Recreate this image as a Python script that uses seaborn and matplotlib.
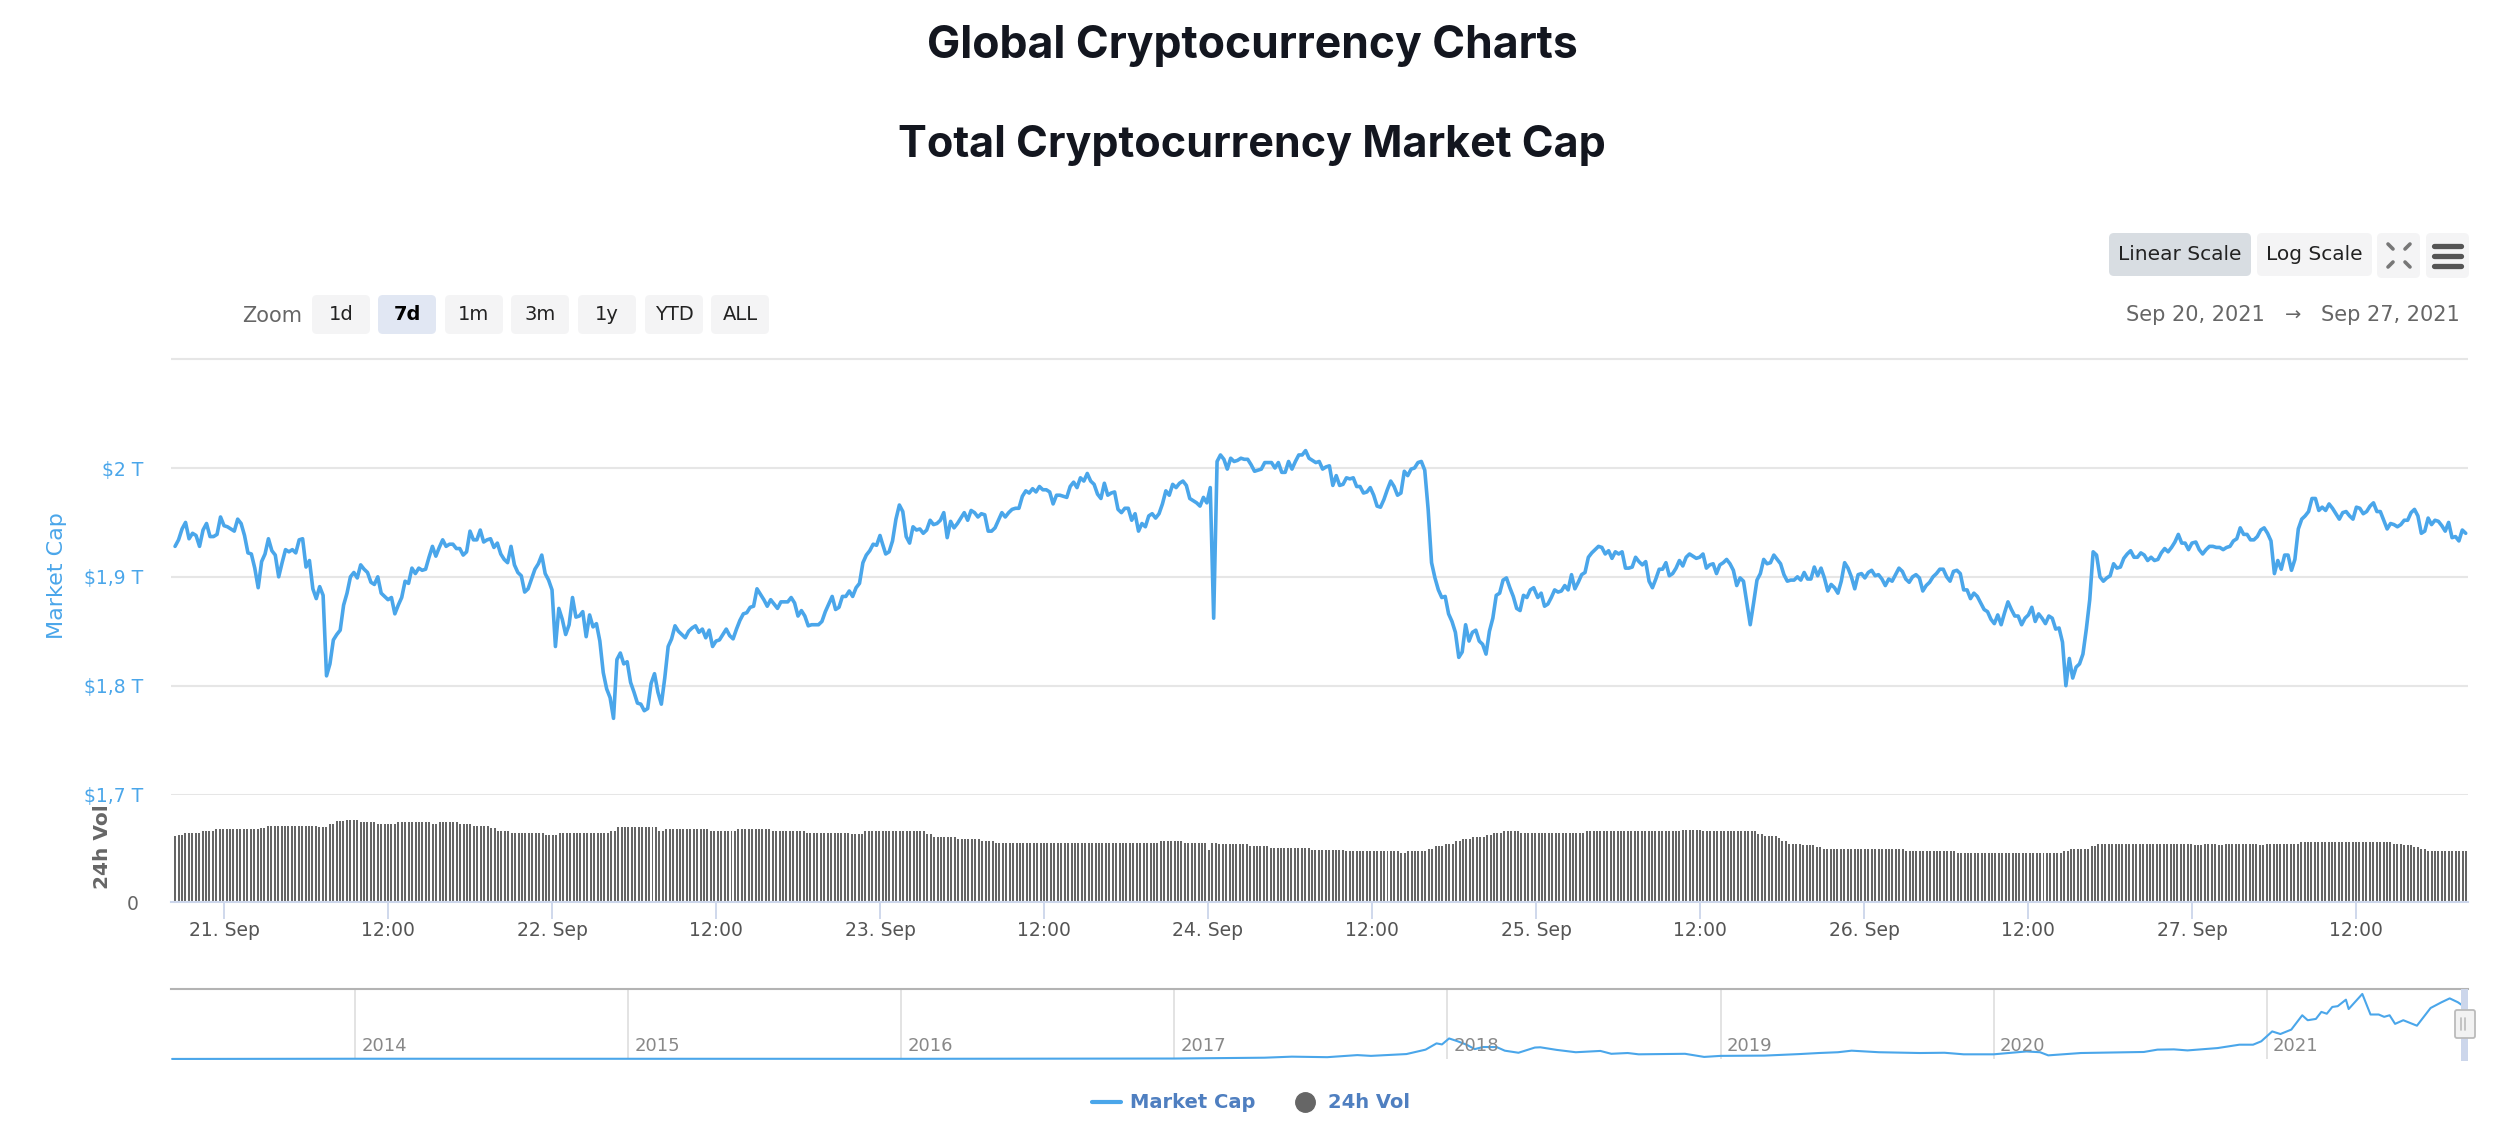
import numpy as np
import pandas as pd
import matplotlib
matplotlib.use('Agg')
import matplotlib.pyplot as plt
from matplotlib.lines import Line2D
from matplotlib.patches import FancyBboxPatch, Rectangle
import seaborn as sns

# market cap in $B, one list per calendar day
cap_sep20 = [1928,1934,1944,1950,1935,1940,1938,1928,1943,1949,1937,1937,1939,1955,1947]
cap_sep21 = [1946,1944,1942,1953,1949,1938,1922,1921,1908,1890,1914,1921,1935,1924,1920,1900,1913,1925,1923,1925,
             1922,1934,1935,1909,1915,1889,1880,1891,1883,1809,1820,1842,1847,1851,1874,1885,1900,1904,1899,1911,
             1907,1904,1895,1893,1900,1885,1882,1879,1881,1866,1874,1881,1896,1894,1908,1903,1908,1906,1907,1918,
             1928,1919,1927,1934,1928,1930,1930,1926,1926,1920,1923,1942,1934,1934,1943,1932,1934,1935,1927,1931,
             1921,1916,1913,1928,1911,1904,1901,1886,1889,1898,1907,1912,1920,1903,1897,1888]
cap_sep22 = [1836,1871,1861,1847,1856,1881,1863,1864,1868,1845,1865,1854,1857,1841,1812,1797,1789,1770,1824,1830,
             1820,1822,1803,1794,1784,1783,1777,1779,1802,1811,1794,1783,1807,1836,1843,1855,1850,1847,1844,1850,
             1853,1855,1849,1852,1844,1851,1836,1841,1842,1847,1852,1846,1843,1852,1860,1866,1867,1872,1873,1889,
             1884,1879,1873,1879,1875,1871,1877,1877,1877,1881,1876,1864,1869,1864,1855,1856,1856,1856,1859,1868,
             1875,1882,1870,1872,1882,1882,1887,1882,1890,1894,1913,1920,1924,1930,1929,1938]
cap_sep23 = [1931,1921,1923,1933,1953,1966,1960,1937,1931,1946,1943,1944,1940,1943,1952,1948,1949,1952,1959,1936,
             1951,1945,1949,1954,1959,1952,1961,1959,1955,1958,1957,1942,1942,1945,1952,1959,1955,1959,1962,1963,
             1963,1974,1979,1977,1981,1978,1983,1980,1980,1978,1967,1975,1975,1974,1973,1983,1987,1982,1991,1988,
             1995,1988,1985,1976,1972,1986,1975,1977,1978,1962,1959,1963,1963,1952,1958,1942,1949,1946,1956,1958,
             1954,1958,1967,1979,1975,1985,1982,1986,1988,1984,1972,1970,1968,1965,1973,1968]
cap_sep24 = [1982,1862,2006,2012,2008,1999,2009,2006,2007,2009,2008,2008,2003,1997,1998,1999,2005,2005,2005,2000,
             2005,1996,1996,2006,1999,2006,2012,2012,2016,2009,2007,2005,2006,1999,2001,2002,1984,1993,1984,1985,
             1991,1990,1991,1983,1983,1977,1978,1982,1975,1965,1964,1971,1980,1988,1983,1975,1977,1997,1993,1999,
             2000,2005,2006,1998,1962,1913,1899,1888,1881,1882,1866,1859,1849,1826,1831,1856,1841,1849,1851,1841,
             1838,1829,1850,1862,1883,1885,1897,1899,1890,1882,1871,1869,1883,1881,1888,1890]
cap_sep25 = [1881,1885,1873,1875,1881,1888,1886,1887,1892,1888,1902,1889,1895,1902,1904,1918,1922,1925,1928,1927,
             1921,1924,1917,1923,1921,1923,1908,1908,1909,1918,1914,1911,1914,1896,1890,1898,1907,1907,1913,1901,
             1903,1908,1915,1910,1918,1921,1919,1917,1918,1921,1908,1911,1912,1903,1911,1913,1916,1912,1906,1892,
             1899,1896,1876,1856,1876,1897,1903,1916,1912,1913,1920,1916,1912,1902,1896,1897,1897,1900,1897,1904,
             1898,1898,1909,1901,1908,1899,1887,1893,1890,1885,1896,1913,1908,1900,1889,1902,1903,1899]
cap_sep26 = [1904,1906,1901,1902,1898,1892,1898,1896,1902,1908,1905,1898,1895,1900,1902,1899,1887,1892,1895,1900,
             1903,1907,1907,1900,1896,1905,1906,1903,1888,1888,1880,1885,1882,1876,1870,1868,1861,1857,1865,1856,
             1867,1877,1870,1864,1864,1856,1862,1865,1872,1859,1866,1862,1857,1864,1862,1852,1853,1840,1800,1825,
             1807,1817,1820,1829,1852,1879,1923,1920,1900,1896,1899,1901,1912,1908,1909,1917,1921,1924,1918,1918,
             1922,1920,1915,1918,1915,1916,1922,1926,1923,1927,1932,1939,1931,1931,1925,1931]
cap_sep27 = [1932,1925,1921,1925,1928,1928,1927,1927,1925,1927,1928,1933,1935,1945,1939,1939,1934,1934,1937,1943,
             1945,1940,1933,1903,1915,1907,1920,1920,1906,1916,1944,1953,1956,1960,1972,1972,1961,1964,1961,1967,
             1963,1958,1953,1959,1960,1956,1953,1964,1963,1958,1960,1965,1968,1960,1960,1952,1944,1949,1948,1946,
             1948,1952,1952,1959,1962,1956,1940,1942,1954,1948,1952,1951,1947,1942,1950,1936,1937,1933,1943,1940]
cap_days = [cap_sep20, cap_sep21, cap_sep22, cap_sep23, cap_sep24, cap_sep25, cap_sep26, cap_sep27]
cap_starts = ['2021-09-20 20:25', '2021-09-21 00:15', '2021-09-22 00:15', '2021-09-23 00:10',
              '2021-09-24 00:10', '2021-09-25 00:08', '2021-09-26 00:19', '2021-09-27 00:17']
cap_ends = ['2021-09-21 00:00', '2021-09-22 00:00', '2021-09-23 00:00', '2021-09-23 23:55',
            '2021-09-24 23:50', '2021-09-26 00:04', '2021-09-27 00:00', '2021-09-27 20:02']

# 24h volume, the bars come in flat runs so level + how many bars
vol_levels_a = [132,134,138,142,146,148,152,150,156,162,164,160,156,160,156,160,156,152,148,142,138,134,138,142,150,
                142,146,142,146,142,138,136,142,142]
vol_counts_a = [1,2,5,4,13,2,15,3,2,3,4,5,6,10,2,6,4,5,2,4,10,4,15,2,12,2,13,8,10,10,13,4,4,5]
vol_levels_b = [142,136,130,126,122,118,122,118,104,118,116,112,108,104,102,98,102,106,112,116,122,126,130,134,
                138,142,138,142,144,142,136,132]
vol_counts_b = [9,2,7,7,4,48,7,7,1,2,9,6,12,10,16,2,6,2,3,3,2,3,4,2,3,5,19,28,6,16,2,4]
vol_levels_c = [128,122,116,114,110,106,102,98,102,106,112,116,114,116,114,116,114,116,120,116,114,110,106,102]
vol_counts_c = [1,2,4,4,2,24,15,31,2,6,2,28,3,4,2,10,2,10,27,3,3,2,2,12]

# long range overview, year fractions and $T
nav_years = [2013.33,2014.0,2016.0,2017.0,2017.33,2017.43,2017.56,2017.67,2017.72,2017.85,2017.92,2017.96,2017.98,
             2018.006,2018.035,2018.07,2018.10,2018.13,2018.18,2018.21,2018.26,2018.32,2018.34,2018.40,2018.47,
             2018.56,2018.60,2018.66,2018.70,2018.87,2018.94,2019.0,2019.16,2019.29,2019.36,2019.43,2019.48,2019.58,
             2019.73,2019.82,2019.89,2020.0,2020.12,2020.17,2020.2,2020.32,2020.55,2020.6,2020.66,2020.71,2020.82,
             2020.9,2020.95,2020.98,2021.02,2021.05,2021.09,2021.13,2021.15,2021.18,2021.2,2021.22,2021.24,2021.26,
             2021.29,2021.3,2021.35,2021.38,2021.41,2021.43,2021.45,2021.47,2021.5,2021.55,2021.6,2021.64,2021.67,
             2021.7,2021.73]
nav_caps = [0.002,0.01,0.007,0.018,0.05,0.09,0.07,0.15,0.12,0.19,0.36,0.6,0.56,
            0.79,0.69,0.55,0.38,0.46,0.46,0.32,0.24,0.44,0.45,0.35,0.26,
            0.31,0.2,0.23,0.18,0.2,0.08,0.12,0.13,0.19,0.23,0.26,0.32,0.26,
            0.23,0.24,0.18,0.18,0.29,0.26,0.14,0.23,0.27,0.36,0.37,0.33,0.42,
            0.55,0.55,0.68,1.06,0.96,1.13,1.68,1.49,1.54,1.81,1.74,2.0,2.03,
            2.28,1.92,2.5,1.71,1.71,1.62,1.68,1.35,1.49,1.28,1.96,2.18,2.33,
            2.18,1.96]
nav_ticks = [2014, 2015, 2016, 2017, 2018, 2019, 2020, 2021]

x_ticks = [0, 12, 24, 36, 48, 60, 72, 84, 96, 108, 120, 132, 144, 156]
x_labels = ['21. Sep', '12:00', '22. Sep', '12:00', '23. Sep', '12:00', '24. Sep', '12:00',
            '25. Sep', '12:00', '26. Sep', '12:00', '27. Sep', '12:00']
y_ticks = [1700, 1800, 1900, 2000, 2100]
y_labels = ['$1,7 T', '$1,8 T', '$1,9 T', '$2 T', '']

BLUE = '#4aa6ea'
GREY = '#666666'
W, H = 2496, 1130

sns.set_theme(style='white')
plt.rcParams['font.family'] = ['DejaVu Sans']


def panel(fig, left, right, top, bottom):
    return fig.add_axes([left / W, 1 - bottom / H, (right - left) / W, (bottom - top) / H])


def button(ax, x0, x1, y0, y1, label, color, weight='normal', text_color='#222222', size=14):
    ax.add_patch(FancyBboxPatch((x0 + 3, y0 + 3), x1 - x0 - 6, y1 - y0 - 6, boxstyle='round,pad=3,rounding_size=5',
                                fc=color, ec='none'))
    if label:
        ax.text((x0 + x1) / 2, (y0 + y1) / 2, label, ha='center', va='center', fontsize=size,
                color=text_color, fontweight=weight)


# build tables
cap_parts = []
for vals, start, end in zip(cap_days, cap_starts, cap_ends):
    cap_parts.append(pd.DataFrame({'time': pd.date_range(start, end, periods=len(vals)), 'cap': vals}))
cap_df = pd.concat(cap_parts, ignore_index=True)
cap_df['hour'] = (cap_df['time'] - pd.Timestamp('2021-09-21')) / pd.Timedelta(hours=1)

vol_values = np.repeat(vol_levels_a + vol_levels_b + vol_levels_c, vol_counts_a + vol_counts_b + vol_counts_c)
vol_df = pd.DataFrame({'hour': np.linspace(-3.58, 164.05, len(vol_values)), 'vol': vol_values})
nav_df = pd.DataFrame({'year': nav_years, 'cap': nav_caps})

fig = plt.figure(figsize=(W / 100, H / 100), dpi=100, facecolor='white')
x_min, x_max = -3.88, 164.2

# market cap pane
ax = panel(fig, 171, 2468, 357, 794.5)
sns.lineplot(data=cap_df, x='hour', y='cap', color=BLUE, linewidth=2.6, errorbar=None, ax=ax)
ax.set_xlim(x_min, x_max)
ax.set_ylim(1700, 2102)
ax.set_yticks(y_ticks)
ax.set_yticklabels(y_labels)
ax.tick_params(axis='y', length=0, pad=20, labelsize=13.5, labelcolor=BLUE)
ax.set_xticks([])
ax.yaxis.grid(True, color='#e6e6e6', linewidth=1.5)
ax.get_ygridlines()[0].set_linewidth(2.2)
ax.set_xlabel('')
ax.set_ylabel('')
sns.despine(ax=ax, left=True, bottom=True)

# volume pane
ax_vol = panel(fig, 171, 2468, 794.5, 902)
sns.barplot(data=vol_df, x='hour', y='vol', native_scale=True, color=GREY, saturation=1, width=0.58,
            linewidth=0, errorbar=None, ax=ax_vol)
ax_vol.set_xlim(x_min, x_max)
ax_vol.set_ylim(0, 215)
ax_vol.set_yticks([0])
ax_vol.set_yticklabels(['0'])
ax_vol.set_xticks(x_ticks)
ax_vol.set_xticklabels(x_labels)
ax_vol.tick_params(axis='y', length=0, pad=23, labelsize=13.5, labelcolor=GREY)
ax_vol.tick_params(axis='x', length=12, width=1.3, color='#ccd6eb', pad=2, labelsize=13.5, labelcolor='#555555',
                   bottom=True)
ax_vol.set_xlabel('')
ax_vol.set_ylabel('')
ax_vol.patch.set_alpha(0)
sns.despine(ax=ax_vol, left=True)
ax_vol.spines['bottom'].set_color('#ccd6eb')
ax_vol.spines['bottom'].set_linewidth(1.5)

# overview strip
ax_nav = panel(fig, 171, 2468, 989, 1059)
ax_nav.set_xlim(2013.326, 2021.737)
ax_nav.set_ylim(0, 2.69)
ax_nav.set_xticks(nav_ticks)
ax_nav.set_xticklabels([])
ax_nav.set_yticks([])
ax_nav.tick_params(axis='x', length=0)
ax_nav.xaxis.grid(True, color='#e0e0e0', linewidth=1.3)
sns.lineplot(data=nav_df, x='year', y='cap', color=BLUE, linewidth=1.5, errorbar=None, ax=ax_nav, clip_on=False)
for yr in nav_ticks:
    ax_nav.annotate(str(yr), (yr, 0), xytext=(4.5, 9.5), textcoords='offset points', fontsize=13, color='#888888',
                    va='center', ha='left')
ax_nav.set_xlabel('')
ax_nav.set_ylabel('')
sns.despine(ax=ax_nav, left=True, bottom=True, top=False)
ax_nav.spines['top'].set_color('#b3b3b3')
ax_nav.spines['top'].set_linewidth(1.5)

# page furniture, in pixel coordinates of the screenshot
over = fig.add_axes([0, 0, 1, 1], zorder=5)
over.set_xlim(0, W)
over.set_ylim(H, 0)
over.set_axis_off()
over.patch.set_alpha(0)

over.text(1252, 46, 'Global Cryptocurrency Charts', ha='center', va='center', fontsize=32, fontweight='bold',
          family='Inter', color='#13161f')
over.text(1252, 145, 'Total Cryptocurrency Market Cap', ha='center', va='center', fontsize=31, fontweight='bold',
          family='Inter', color='#13161f')

over.text(57, 576, 'Market Cap', rotation=90, ha='center', va='center', fontsize=16, color=BLUE)
over.text(102, 847, '24h Vol', rotation=90, ha='center', va='center', fontsize=14.5, color=GREY, fontweight='bold')

over.text(272, 316, 'Zoom', ha='center', va='center', fontsize=15, color=GREY)
zoom_labels = ['1d', '7d', '1m', '3m', '1y', 'YTD', 'ALL']
zoom_edges = [312, 378, 445, 511, 578, 645, 711]
for lab, left in zip(zoom_labels, zoom_edges):
    on = lab == '7d'
    button(over, left, left + 58, 295, 334, lab, '#e1e7f3' if on else '#f4f4f5', 'bold' if on else 'normal',
           '#000000' if on else '#222222')

button(over, 2109, 2251, 233, 276, 'Linear Scale', '#d8dde2', size=14.5)
button(over, 2257, 2372, 233, 276, 'Log Scale', '#f4f4f5', size=14.5)
button(over, 2377, 2420, 233, 278, '', '#f4f4f5')
button(over, 2426, 2469, 233, 278, '', '#f4f4f5')
for xa, xb, ya, yb in [(2388, 2393, 244, 249), (2410, 2405, 244, 249), (2388, 2393, 267, 262), (2410, 2405, 267, 262)]:
    over.add_line(Line2D([xa, xb], [ya, yb], color='#777777', linewidth=2.6))
for yb in [245.5, 255.5, 265.5]:
    over.add_line(Line2D([2434, 2461], [yb, yb], color='#555555', linewidth=3.8, solid_capstyle='round'))

over.text(2195, 315, 'Sep 20, 2021', ha='center', va='center', fontsize=15, color=GREY)
over.text(2293, 315, '→', ha='center', va='center', fontsize=14, color=GREY)
over.text(2390, 315, 'Sep 27, 2021', ha='center', va='center', fontsize=15, color=GREY)

# range handle at the right of the overview
over.add_patch(Rectangle((2461, 989), 7, 72, fc='#ccd6eb', ec='none'))
over.add_patch(FancyBboxPatch((2456, 1011), 18, 26, boxstyle='round,pad=1,rounding_size=2', fc='#f2f2f2',
                              ec='#bbbbbb', linewidth=1.3))
for xb in [2461, 2465]:
    over.add_line(Line2D([xb, xb], [1018, 1030], color='#bbbbbb', linewidth=1.2))

handles = [Line2D([], [], color=BLUE, linewidth=3),
           Line2D([], [], color=GREY, marker='o', linestyle='none', markersize=14)]
fig.legend(handles, ['Market Cap', '24h Vol'], loc='center', bbox_to_anchor=(1251 / W, 1 - 1103 / H), ncols=2,
           frameon=False, labelcolor='#4f7fc0', prop={'weight': 'bold', 'size': 14}, handlelength=1.5,
           handletextpad=0.45, columnspacing=1.8)

fig.savefig('out.png', dpi=100)
